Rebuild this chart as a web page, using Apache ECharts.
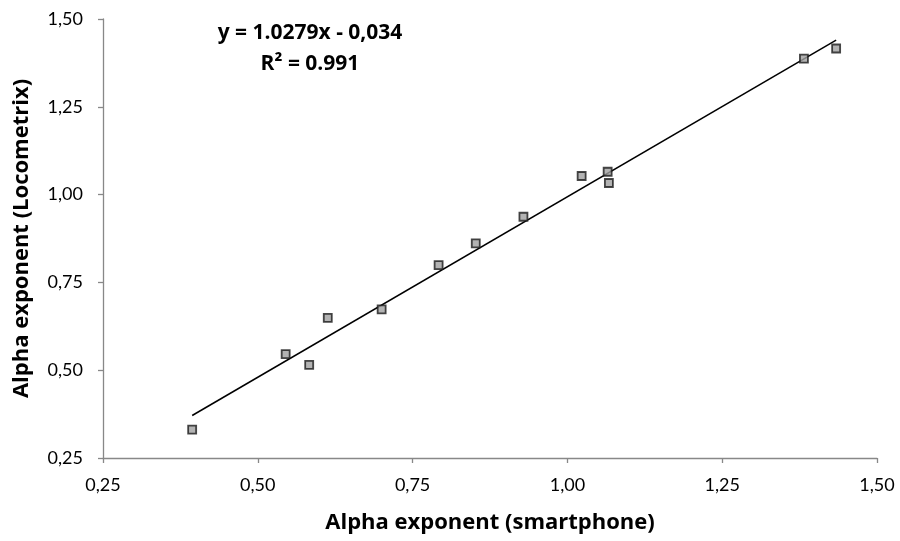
<!DOCTYPE html>
<html>
<head>
<meta charset="utf-8">
<script src="https://cdn.jsdelivr.net/npm/echarts@6/dist/echarts.min.js"></script>
<style>html,body{margin:0;padding:0;background:#fff}#c{width:900px;height:541px}</style>
</head>
<body>
<div id="c"></div>
<script>
// Data
const smartphone = [0.394, 0.545, 0.583, 0.613, 0.700, 0.792, 0.852, 0.929, 1.023, 1.065, 1.067, 1.382, 1.434];
const locometrix = [0.331, 0.546, 0.515, 0.649, 0.673, 0.799, 0.861, 0.937, 1.053, 1.065, 1.033, 1.387, 1.416];
// Trendline endpoints (as drawn)
const trendX = [0.394, 1.434];
const trendY = [0.371, 1.440];
const axisTicks = [0.25, 0.50, 0.75, 1.00, 1.25, 1.50];
const equationText = 'y = 1.0279x - 0,034';
const r2Text = 'R² = 0.991';
const xTitle = 'Alpha exponent (smartphone)';
const yTitle = 'Alpha exponent (Locometrix)';

const pts = smartphone.map((x, i) => [x, locometrix[i]]);
const trend = trendX.map((x, i) => [x, trendY[i]]);
const fmt = v => v.toFixed(2).replace('.', ',');
const FONT = 'Lato, "Open Sans", sans-serif';
const BFONT = '"Open Sans", Lato, sans-serif';
const axisCol = '#888888';

const axisCommon = {
  type: 'value',
  min: axisTicks[0],
  max: axisTicks[axisTicks.length - 1],
  interval: 0.25,
  splitLine: { show: false },
  axisLine: { show: true, lineStyle: { color: axisCol, width: 1.3 } },
  axisTick: { show: true, length: 5, lineStyle: { color: axisCol, width: 1.3 } },
  nameLocation: 'middle',
  nameTextStyle: { fontFamily: BFONT, fontWeight: 'bold', fontSize: 22, color: '#000' },
  axisLabel: { fontFamily: FONT, fontSize: 18, color: '#000', formatter: fmt }
};

const chart = echarts.init(document.getElementById('c'), null, { renderer: 'canvas' });
chart.setOption({
  animation: false,
  grid: { left: 103, right: 23, top: 19, bottom: 83 },
  xAxis: Object.assign({}, axisCommon, {
    name: xTitle, nameGap: 54,
    axisLabel: Object.assign({}, axisCommon.axisLabel, { margin: 18 })
  }),
  yAxis: Object.assign({}, axisCommon, {
    name: yTitle, nameGap: 70,
    axisLabel: Object.assign({}, axisCommon.axisLabel, { margin: 20 })
  }),
  series: [
    {
      type: 'line',
      data: trend,
      symbol: 'none',
      lineStyle: { color: '#000', width: 1.5 },
      z: 2
    },
    {
      type: 'scatter',
      data: pts,
      symbol: 'rect',
      symbolSize: 8,
      itemStyle: { color: '#a0a0a0', borderColor: '#1a1a1a', borderWidth: 1.8 },
      z: 3
    }
  ],
  graphic: [
    {
      type: 'text', x: 310, y: 33,
      style: { text: equationText, font: 'bold 21px ' + BFONT, fill: '#000', textAlign: 'center', textVerticalAlign: 'middle' }
    },
    {
      type: 'text', x: 310, y: 64,
      style: { text: r2Text, font: 'bold 21px ' + BFONT, fill: '#000', textAlign: 'center', textVerticalAlign: 'middle' }
    }
  ]
});
</script>
</body>
</html>
